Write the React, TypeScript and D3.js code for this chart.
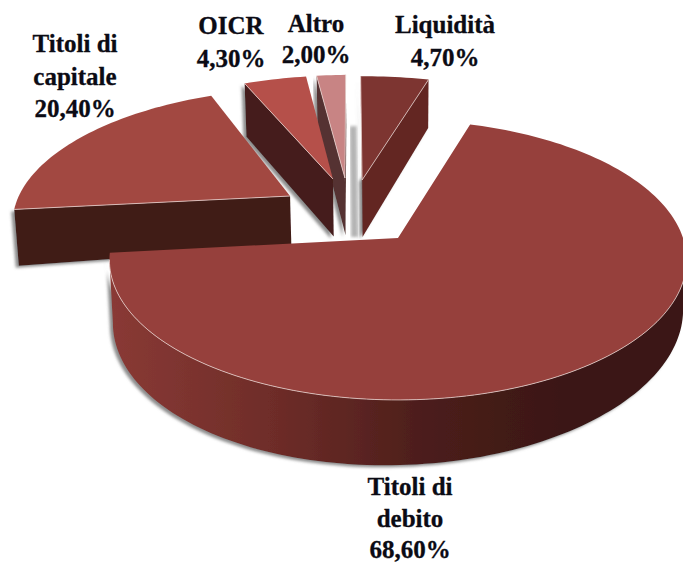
import React from "react";
import * as d3 from "d3";

const categories = ["Liquidità", "Titoli di debito", "Titoli di capitale", "OICR", "Altro"];
const values = [4.7, 68.6, 20.4, 4.3, 2.0];
const labelLines = [
  ["Liquidità", "4,70%"],
  ["Titoli di", "debito", "68,60%"],
  ["Titoli di", "capitale", "20,40%"],
  ["OICR", "4,30%"],
  ["Altro", "2,00%"],
];

// layout and styling, by slice
const labelX = [445, 410, 75, 231, 316];
const labelY = [33, 495, 52, 34, 32];
const labelStep = [33, 31.5, 32.5, 33, 31];
const shifts = [[-0.135, -0.455], [0, 0], [-0.398, -0.323], [-0.245, -0.464], [-0.2, -0.472]];
const nudges = [-0.026, 0, 0, -0.026, -0.026];
const wallDepths = [60, 55, 50, 60, 60];
const topColors = ["#7d3531", "#96403c", "#a24841", "#b5504a", "#c88484"];
const wallColors = ["#642622", "url(#rim)", "#411b18", "#451c1a", "#553331"];

const width = 683;
const height = 564;
const tilt = 0.157;
const skew = 0.12;
const converge = 0.012;

const sx = d3.scaleLinear().domain([-1, 1]).range([398 - 285, 398 + 285]);
const sy = d3.scaleLinear().domain([-1, 1]).range([238 - 136.5, 238 + 136.5]);

// z is 0 on the top face and 1 at the foot of the wall
const project = (u: number, v: number, depth = 0, z = 0): [number, number] => {
  const w = 1 - tilt * v;
  const x = sx(u / w);
  return [x + z * converge * (sx(0) - x), sy(v / w) + (z * depth * (1 - skew * u)) / w];
};

const line = d3.line();
const pie = d3.pie<number>().sort(null);
const arcs = pie(values);

const slices = arcs.map((a, i) => {
  const [du, dv] = shifts[i];
  const steps = Math.max(4, Math.ceil((a.endAngle - a.startAngle) * 40));
  const angles = d3.range(steps + 1).map((k) => a.startAngle + nudges[i] + ((a.endAngle - a.startAngle) * k) / steps);
  const rim = angles.map((t) => [du + Math.sin(t), dv - Math.cos(t)]);
  const ground = [[du, dv], ...rim, [du, dv]];
  const top = ground.map(([u, v]) => project(u, v));
  const bottom = ground.map(([u, v]) => project(u, v, wallDepths[i], 1));

  // a wall shows only where the top face's edge runs leftward on screen;
  // neighbouring edges are joined so a curved wall stays one shape
  const runs: number[][] = [];
  d3.range(ground.length - 1)
    .filter((k) => top[k + 1][0] < top[k][0])
    .forEach((k) => {
      const last = runs[runs.length - 1];
      if (last && last[last.length - 1] === k) last.push(k + 1);
      else runs.push([k, k + 1]);
    });
  const walls = runs.map((r) => [...r.map((k) => top[k]), ...[...r].reverse().map((k) => bottom[k])]);
  const edges = runs.map((r) => r.map((k) => top[k]));
  return { i, dv, top, bottom, walls, edges };
});

const order = d3.range(slices.length).sort((a, b) => d3.ascending(slices[a].dv, slices[b].dv));

export default function App() {
  return (
    <svg width={width} height={height} style={{ position: "absolute", left: 0, top: 0, background: "#fff" }}>
      <defs>
        <linearGradient id="rim" gradientUnits="userSpaceOnUse" x1={107} x2={683} y1={0} y2={0}>
          <stop offset="0" stopColor="#8a3a35" />
          <stop offset="0.3" stopColor="#6d2c28" />
          <stop offset="0.55" stopColor="#4c1e1b" />
          <stop offset="0.8" stopColor="#3a1714" />
          <stop offset="1" stopColor="#3a1714" />
        </linearGradient>
        <filter id="shadow" x="-10%" y="-10%" width="120%" height="125%">
          <feDropShadow dx={-3} dy={2} stdDeviation={1.6} floodColor="#6f6f6f" floodOpacity={0.8} />
        </filter>
        <filter id="glow" x="-200%" y="-10%" width="500%" height="120%">
          <feGaussianBlur stdDeviation={1.6} />
        </filter>
      </defs>

      {/* grey strip that the first slice throws behind itself */}
      <path
        d={line([slices[0].bottom[1], slices[0].bottom[0]] as [number, number][]) ?? ""}
        transform="translate(-8,0)"
        stroke="#b4b4b4"
        strokeWidth={7}
        fill="none"
        filter="url(#glow)"
      />

      {order.map((idx) => {
        const s = slices[idx];
        return (
          <g key={categories[idx]}>
            <g filter="url(#shadow)">
              {s.walls.map((w, k) => (
                <path key={k} d={line(w as [number, number][]) + "Z"} fill={wallColors[idx]} />
              ))}
            </g>
            <path d={line(s.top as [number, number][]) + "Z"} fill={topColors[idx]} />
            {s.edges.map((e, k) => (
              <path
                key={k}
                d={line(e as [number, number][]) ?? ""}
                stroke="#e6cfcb"
                strokeWidth={0.8}
                fill="none"
              />
            ))}
          </g>
        );
      })}

      {labelLines.map((lines, i) =>
        lines.map((t, k) => (
          <text
            key={i + "-" + k}
            x={labelX[i]}
            y={labelY[i] + k * labelStep[i]}
            textAnchor="middle"
            fontFamily="'Liberation Serif', serif"
            fontWeight="bold"
            fontSize={25}
            fill="#0b0b14"
            stroke="#0b0b14"
            strokeWidth={0.3}
          >
            {t}
          </text>
        ))
      )}
    </svg>
  );
}
